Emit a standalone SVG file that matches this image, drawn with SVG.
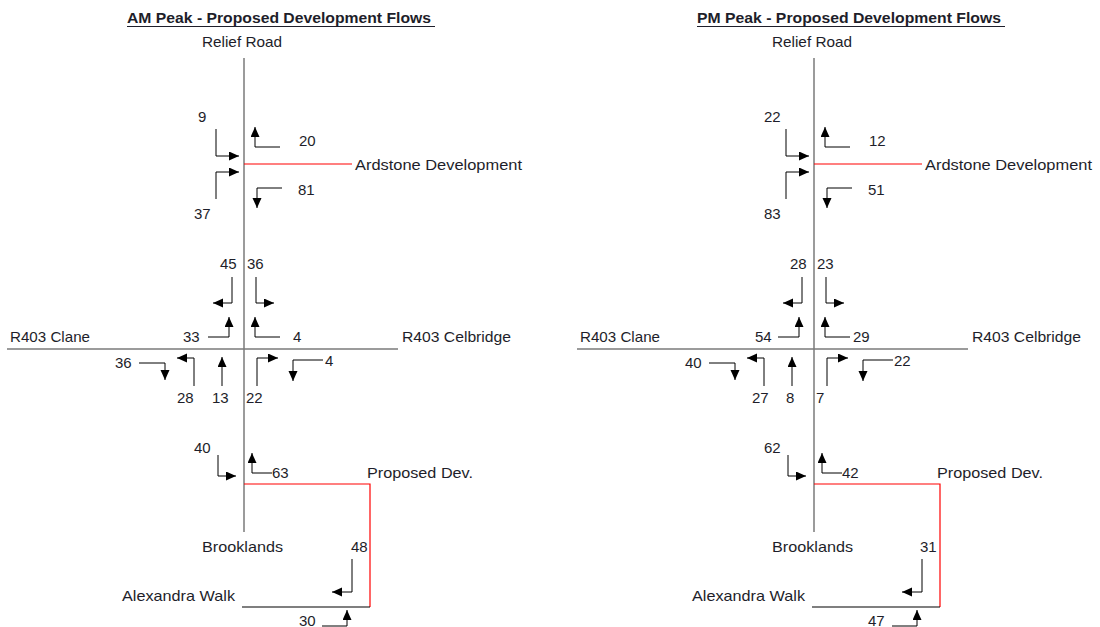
<svg xmlns="http://www.w3.org/2000/svg" xmlns:xlink="http://www.w3.org/1999/xlink" width="1100" height="627" viewBox="0 0 1100 627">
<style>
text{font-family:"Liberation Sans",Arial,sans-serif;font-size:15px;fill:#1e1e2a}
.title{font-weight:bold}
.road{stroke:#7a7a7a;stroke-width:1.5;fill:none}
.dev{stroke:#ff0000;stroke-width:1.2;fill:none}
.walk{stroke:#000;stroke-width:1.2;fill:none}
.arr{stroke:#000;stroke-width:1;fill:none;marker-end:url(#ah)}
.ul{stroke:#1e1e2a;stroke-width:1.2}
</style>
<defs>
<marker id="ah" markerUnits="userSpaceOnUse" markerWidth="11" markerHeight="10" refX="10" refY="4.5" orient="auto">
<path d="M0,0 L10,4.5 L0,9 Z" fill="#000"/>
</marker>
<g id="roads">
<path class="road" d="M244,58 V532"/>
<path class="road" d="M7,349 H398"/>
<path class="dev" d="M244,164 H352"/>
<path class="dev" d="M244,484 H370 V607"/>
<path class="walk" d="M242,607 H370"/>
</g>
<g id="arrows">
<path class="arr" d="M216,129 V156 H239"/>
<path class="arr" d="M216,199 V172 H239"/>
<path class="arr" d="M280,147 H255 V127"/>
<path class="arr" d="M282,188 H257 V208"/>
<path class="arr" d="M232,277 V303 H213"/>
<path class="arr" d="M256,277 V303 H274"/>
<path class="arr" d="M208,337 H229 V317"/>
<path class="arr" d="M280,337 H255 V317"/>
<path class="arr" d="M194,386 V358 H177"/>
<path class="arr" d="M222,386 V357"/>
<path class="arr" d="M257,386 V358 H278"/>
<path class="arr" d="M323,360 H293 V381"/>
<path class="arr" d="M139,363 H165 V380"/>
<path class="arr" d="M218,455 V476 H236"/>
<path class="arr" d="M272,473 H252 V453"/>
<path class="arr" d="M352,559 V592 H332"/>
<path class="arr" d="M322,626 H347 V610"/>
</g>
<g id="labels">
<text x="202" y="47" textLength="80" lengthAdjust="spacingAndGlyphs">Relief Road</text>
<text x="355" y="170" textLength="167" lengthAdjust="spacingAndGlyphs">Ardstone Development</text>
<text x="10" y="342" textLength="80" lengthAdjust="spacingAndGlyphs">R403 Clane</text>
<text x="402" y="342" textLength="109" lengthAdjust="spacingAndGlyphs">R403 Celbridge</text>
<text x="367" y="478" textLength="106" lengthAdjust="spacingAndGlyphs">Proposed Dev.</text>
<text x="202" y="552" textLength="81" lengthAdjust="spacingAndGlyphs">Brooklands</text>
<text x="122" y="601" textLength="113" lengthAdjust="spacingAndGlyphs">Alexandra Walk</text>
</g>
</defs>

<g id="am-peak">
<g id="am-title">
<text class="title" x="127" y="23" textLength="304" lengthAdjust="spacingAndGlyphs">AM Peak - Proposed Development Flows</text>
<line class="ul" x1="127" y1="26.5" x2="435" y2="26.5"/>
</g>
<g id="am-roads"><use xlink:href="#roads" href="#roads"/></g>
<g id="am-road-labels"><use xlink:href="#labels" href="#labels"/></g>
<g id="am-connectors"><use xlink:href="#arrows" href="#arrows"/></g>
<g id="am-flows">
<text x="198" y="122">9</text>
<text x="299" y="146">20</text>
<text x="194" y="219">37</text>
<text x="298" y="195">81</text>
<text x="220" y="269">45</text>
<text x="247" y="269">36</text>
<text x="183" y="342">33</text>
<text x="293" y="342">4</text>
<text x="115" y="368">36</text>
<text x="325" y="366">4</text>
<text x="177" y="403">28</text>
<text x="212" y="403">13</text>
<text x="246" y="403">22</text>
<text x="194" y="453">40</text>
<text x="272" y="478">63</text>
<text x="351" y="552">48</text>
<text x="299" y="626">30</text>
</g>
</g>

<g id="pm-peak">
<g id="pm-title">
<text class="title" x="697" y="23" textLength="304" lengthAdjust="spacingAndGlyphs">PM Peak - Proposed Development Flows</text>
<line class="ul" x1="697" y1="26.5" x2="1005" y2="26.5"/>
</g>
<g id="pm-roads" transform="translate(570,0)"><use xlink:href="#roads" href="#roads"/></g>
<g id="pm-road-labels" transform="translate(570,0)"><use xlink:href="#labels" href="#labels"/></g>
<g id="pm-connectors" transform="translate(570,0)"><use xlink:href="#arrows" href="#arrows"/></g>
<g id="pm-flows">
<text x="764" y="122">22</text>
<text x="869" y="146">12</text>
<text x="764" y="219">83</text>
<text x="868" y="195">51</text>
<text x="790" y="269">28</text>
<text x="817" y="269">23</text>
<text x="755" y="342">54</text>
<text x="853" y="342">29</text>
<text x="685" y="368">40</text>
<text x="894" y="366">22</text>
<text x="752" y="403">27</text>
<text x="786" y="403">8</text>
<text x="816" y="403">7</text>
<text x="764" y="453">62</text>
<text x="842" y="478">42</text>
<text x="920" y="552">31</text>
<text x="868" y="626">47</text>
</g>
</g>
</svg>
